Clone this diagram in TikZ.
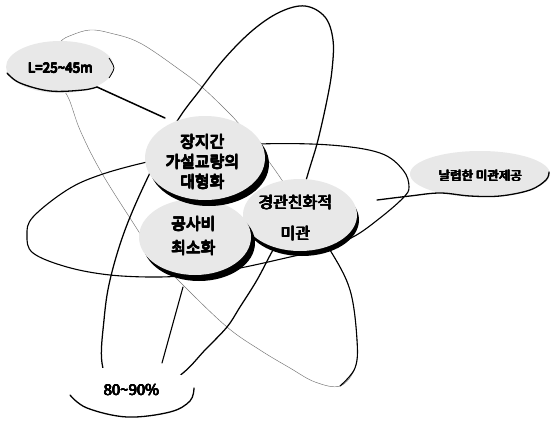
\documentclass[tikz,border=0pt]{standalone}
\usepackage{fontspec}
\newfontfamily\kr{Noto Sans CJK KR}
\newcommand\hv[1]{\leavevmode\rlap{#1}\rlap{\kern.8pt#1}\rlap{\raisebox{.6pt}{\kern.8pt#1}}\rlap{\raisebox{.6pt}{#1}}\rlap{\kern.4pt#1}\rlap{\raisebox{.3pt}{\kern.8pt#1}}\raisebox{.3pt}{#1}}
\begin{document}
\begin{tikzpicture}[x=1pt,y=-1pt,
  orb/.style={line width=1.1pt, line cap=round, line join=round},
  orbthin/.style={line width=0.45pt, black!55},
  bub/.style={fill=black!9},
  shad/.style={fill=black},
  edge/.style={line width=1.3pt, line cap=round},
  lbl/.style={font=\kr, align=center, inner sep=0pt}]
\useasboundingbox (0,0) rectangle (552,423);
\fill[white] (0,0) rectangle (552,423);

% orbit X (upper-left to lower-right)
\draw[orbthin] plot[smooth cycle, tension=0.6] coordinates {(45,62) (60,42) (72,35) (90,30) (110,33) (140,43) (180,70) (203,88) (233,117) (247,133) (275,170) (305,215) (330,250) (350,290) (357,340) (355,368) (340,386) (315,382) (290,368) (260,350) (227,327) (183,285) (155,255) (130,218) (100,170) (80,130) (68,97) (55,80)};
\draw[orb] plot[smooth, tension=0.6] coordinates {(305,215) (330,250) (350,290) (357,340) (355,368) (340,386)};

% orbit Y (lower-left to top)
\draw[orb, line width=1.25pt] plot[smooth cycle, tension=0.6] coordinates {(102,363) (104,320) (110,280) (125,230) (148,177) (176,123) (200,90) (225,58) (253,30) (280,12) (305,6) (325,17) (333,40) (332,70) (327,100) (318,140) (310,167) (298,205) (285,232) (273,250) (257,280) (240,307) (227,327) (205,350) (183,373) (150,395) (115,390)};

% orbit Z (horizontal)
\draw[orb] plot[smooth cycle, tension=0.6] coordinates {(27,235) (33,217) (67,190) (100,175) (147,162) (205,150) (260,144) (330,145) (380,153) (403,170) (409,187) (403,198) (380,218) (353,237) (320,250) (290,257) (240,268) (200,274) (160,277) (110,275) (67,267) (33,253)};

% outer bubbles
\fill[bub] (60,67) ellipse [x radius=54, y radius=26];
\fill[bub] (480,174) ellipse [x radius=70, y radius=23];
\fill[white] (132,392) ellipse [x radius=63, y radius=27];

% tails
\coordinate (tL) at (97,87);
\coordinate (tLe) at (165,118);
\draw[line width=1.5pt, line cap=round] (tL) -- (tLe);
\coordinate (tP) at (162,363);
\coordinate (tPe) at (183,287);
\draw[orb] (tP) -- (tPe);

% outer bubble edges
\draw[edge] plot[smooth, tension=0.6] coordinates {(7,73) (20,83) (50,91) (83,90) (97,87)};
\draw[line width=0.8pt] plot[smooth] coordinates {(109,58) (114,68) (109,78)};
\draw[edge] plot[smooth, tension=0.6] coordinates {(377,200) (410,196) (440,193) (470,196) (500,196) (530,190) (546,180) (549,172)};
\draw[edge] plot[smooth, tension=0.6] coordinates {(70,395) (87,408) (127,417) (170,412) (190,401) (194,388)};

\node[lbl, font=\kr\fontsize{13.5}{14}\selectfont] (L) at (60,68) {\hv{L=25\textasciitilde45m}};
\node[lbl, font=\kr\fontsize{12.5}{14}\selectfont] (R) at (480,176) {\hv{날렵한 미관제공}};
\node[lbl, font=\kr\fontsize{15}{16}\selectfont] (P) at (131,390) {\hv{80\textasciitilde90\%}};

% central bubbles
\fill[shad] (302,220) ellipse [x radius=57, y radius=36];
\fill[bub] (300,215) ellipse [x radius=57, y radius=36];
\node[lbl, font=\kr\fontsize{16}{31}\selectfont] (c3) at (295,218) {\hv{경관친화적}\\\hv{미관}};

\fill[shad] (199,243) ellipse [x radius=56, y radius=38];
\fill[bub] (195,237) ellipse [x radius=56, y radius=38];
\node[lbl, font=\kr\fontsize{16}{24}\selectfont] (c2) at (193,236) {\hv{공사비}\\\hv{최소화}};

\fill[shad] (209,164) ellipse [x radius=60, y radius=42];
\fill[bub] (205,158) ellipse [x radius=60, y radius=42];
\node[lbl, font=\kr\fontsize{16}{20}\selectfont] (c1) at (202,162) {\hv{장지간}\\\hv{가설교량의}\\\hv{대형화}};
\end{tikzpicture}
\end{document}
